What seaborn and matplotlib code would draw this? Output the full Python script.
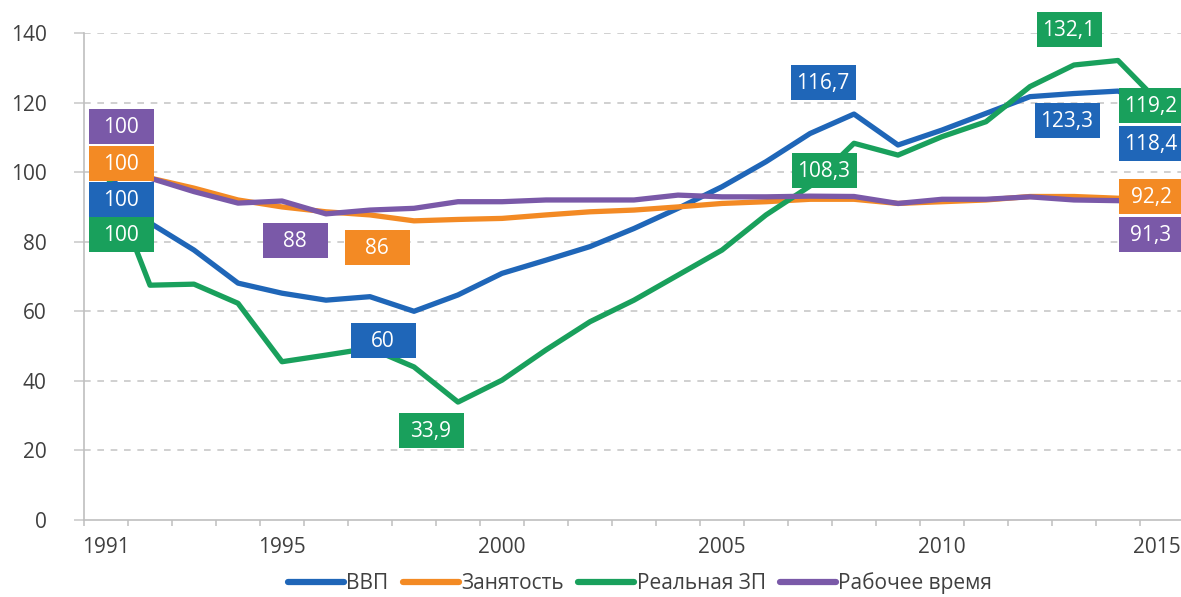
import matplotlib
matplotlib.use("Agg")
import matplotlib.pyplot as plt
import matplotlib.transforms as mtransforms
from matplotlib.patches import Rectangle
import pandas as pd
import seaborn as sns

years = list(range(1991, 2016))
gdp = [100, 85.4, 77.6, 68.1, 65.2, 63.2, 64.2, 60, 64.7, 70.9, 74.7, 78.6, 83.8,
       89.6, 95.8, 103.0, 111.1, 116.7, 107.8, 112.1, 116.9, 121.7, 122.6, 123.3, 118.4]
employment = [100, 98.3, 95.4, 92.0, 90.0, 88.6, 87.7, 86, 86.4, 86.7, 87.7, 88.6, 89.1,
              90.0, 91.0, 91.5, 92.2, 92.2, 91.0, 91.5, 92.0, 93.0, 93.0, 92.5, 92.2]
real_wage = [100, 67.5, 67.8, 62.3, 45.5, 47.4, 49.4, 44.0, 33.9, 40.2, 48.9, 57.0, 63.2,
             70.4, 77.6, 87.7, 96.0, 108.3, 104.9, 110.2, 114.5, 124.6, 130.8, 132.1, 119.2]
work_time = [100, 98.3, 94.4, 91.1, 91.7, 88, 89.1, 89.6, 91.5, 91.5, 92.0, 92.0, 92.0,
             93.4, 92.9, 92.9, 93.1, 93.0, 91.0, 92.2, 92.2, 92.9, 92.0, 91.8, 91.3]

series_names = ["ВВП", "Занятость", "Реальная ЗП", "Рабочее время"]
colors = ["#1f66b8", "#f38a24", "#19a05c", "#7a59a8"]
x_labels = [1991, 1995, 2000, 2005, 2010, 2015]

# labelled points: (series, year, offset of the box centre in pixels)
callouts = [
    ("Рабочее время", 1991, 15, 46), ("Занятость", 1991, 15, 9),
    ("ВВП", 1991, 15, -27), ("Реальная ЗП", 1991, 15, -62),
    ("Рабочее время", 1996, -31, -27), ("Занятость", 1998, -37, -27),
    ("ВВП", 1998, -31, -29), ("Реальная ЗП", 1999, -27, -28),
    ("ВВП", 2008, -31, 32), ("Реальная ЗП", 2008, -30, -27),
    ("Реальная ЗП", 2014, -49, 31), ("ВВП", 2014, -51, -29),
    ("Реальная ЗП", 2015, -11, 0), ("ВВП", 2015, -11, -35),
    ("Занятость", 2015, -11, 3), ("Рабочее время", 2015, -11, -32),
]

df = pd.DataFrame({"year": years * 4,
                   "value": gdp + employment + real_wage + work_time,
                   "series": sum([[s] * len(years) for s in series_names], [])})

sns.set_style("white")
plt.rcParams["font.family"] = ["Open Sans", "DejaVu Sans"]

fig = plt.figure(figsize=(11.81, 5.97), dpi=100)
ax = fig.add_axes([84 / 1181, 77 / 597, 1100 / 1181, 487 / 597])

sns.lineplot(data=df, x="year", y="value", hue="series", hue_order=series_names,
             palette=colors, linewidth=3.8, ax=ax)

ax.set_xlim(1990.5, 2015.5)
ax.set_ylim(0, 140)
ax.set_xlabel("")
ax.set_ylabel("")

ax.set_yticks(range(0, 141, 20))
ax.set_xticks(x_labels)
ax.set_xticks([y + 0.5 for y in range(1990, 2015)], minor=True)
ax.tick_params(axis="y", which="major", length=7, color="#c8c8c8", width=1.1,
               pad=20, labelsize=15, labelcolor="#404040", left=True)
ax.tick_params(axis="x", which="major", length=0, pad=12, labelsize=15,
               labelcolor="#404040")
ax.tick_params(axis="x", which="minor", length=4, color="#bfbfbf", width=1.1, bottom=True)
# last year label sits at the right edge, keep it inside the picture
last = ax.get_xticklabels()[-1]
last.set_horizontalalignment("right")
last.set_x(2015.5)
last.set_transform(last.get_transform() + mtransforms.ScaledTranslation(0.19, 0, fig.dpi_scale_trans))

for v in range(20, 141, 20):
    ax.axhline(v, color="#c8c8c8", lw=1.2, ls=(0, (4, 4)), zorder=0)

for side in ["top", "right"]:
    ax.spines[side].set_visible(False)
for side in ["left", "bottom"]:
    ax.spines[side].set_color("#bfbfbf")
    ax.spines[side].set_linewidth(1.2)

values = dict(zip(series_names, [gdp, employment, real_wage, work_time]))
color_of = dict(zip(series_names, colors))
for name, year, dx, dy in callouts:
    val = values[name][years.index(year)]
    trans = fig.dpi_scale_trans + mtransforms.ScaledTranslation(year, val, ax.transData)
    cx, cy = dx / 100, dy / 100
    ax.add_patch(Rectangle((cx - 0.325, cy - 0.175), 0.65, 0.35, transform=trans,
                           facecolor=color_of[name], edgecolor="none",
                           clip_on=False, zorder=5))
    txt = f"{val:g}".replace(".", ",")
    ax.text(cx, cy - 0.01, txt, transform=trans, ha="center", va="center",
            color="white", fontsize=15, zorder=6, clip_on=False)

handles, labels = ax.get_legend_handles_labels()
ax.get_legend().remove()
leg = fig.legend(handles, labels, loc="center", bbox_to_anchor=(640 / 1181, 14 / 597),
                 ncol=4, frameon=False, fontsize=15, handlelength=2.7, handletextpad=0.1,
                 columnspacing=0.7, labelcolor="#404040")
for line in leg.get_lines():
    line.set_linewidth(4.5)

fig.savefig("out.png", dpi=100)
